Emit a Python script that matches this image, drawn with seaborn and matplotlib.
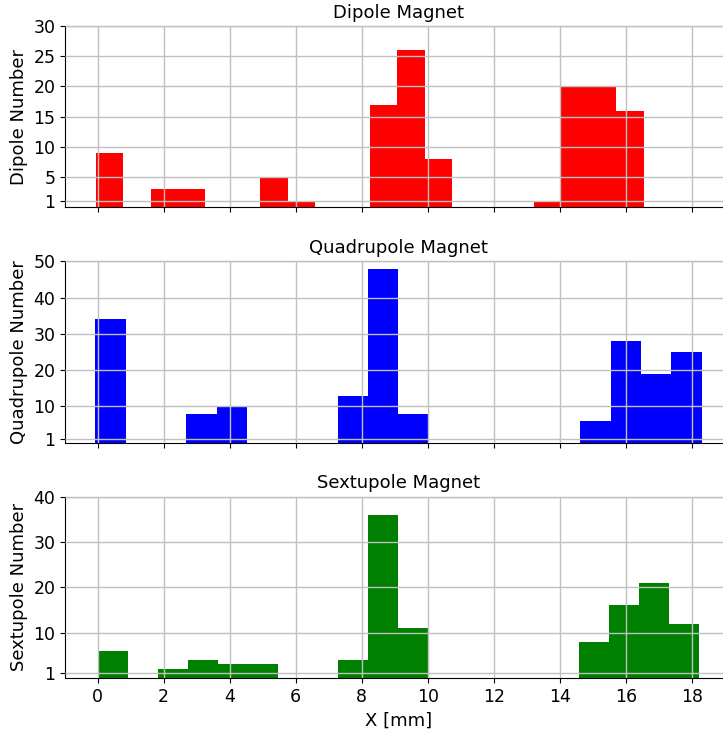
import numpy as np
import pandas as pd
import matplotlib
matplotlib.use("Agg")
import matplotlib.pyplot as plt
import seaborn as sns

# ---- data (20 histogram bins per magnet type) ----
dipole_range = (-0.05, 16.53)
dipole_counts = [9, 0, 3, 3, 0, 0, 5, 1, 0, 0, 17, 26, 8, 0, 0, 0, 1, 20, 20, 16]

quad_range = (-0.07, 18.29)
quad_counts = [34, 0, 0, 8, 10, 0, 0, 0, 13, 48, 8, 0, 0, 0, 0, 0, 6, 28, 19, 25]

sext_range = (0.0, 18.22)
sext_counts = [6, 0, 2, 4, 3, 3, 0, 0, 4, 36, 11, 0, 0, 0, 0, 0, 8, 16, 21, 12]

titles = ["Dipole Magnet", "Quadrupole Magnet", "Sextupole Magnet"]
ylabels = ["Dipole Number", "Quadrupole Number", "Sextupole Number"]
yticks_list = [[1, 5, 10, 15, 20, 25, 30], [1, 10, 20, 30, 40, 50], [1, 10, 20, 30, 40]]
ylims = [(0, 30), (0, 50), (0, 40)]
colors = ["red", "blue", "green"]
xlabel = "X [mm]"

fig = plt.figure(figsize=(7.23, 7.30), dpi=100)
axes = fig.subplots(3, 1, sharex=True)
fig.subplots_adjust(left=0.0899, right=1.0124, top=0.9644, bottom=0.0712, hspace=0.297)

datasets = [(dipole_range, dipole_counts), (quad_range, quad_counts), (sext_range, sext_counts)]

for ax, (rng, counts), title, ylab, yt, yl, col in zip(axes, datasets, titles, ylabels,
                                                       yticks_list, ylims, colors):
    nb = len(counts)
    width = (rng[1] - rng[0]) / nb
    centers = rng[0] + width * (np.arange(nb) + 0.5)
    df = pd.DataFrame({"x": centers, "w": counts})
    sns.histplot(data=df, x="x", weights="w", bins=nb, binrange=rng, ax=ax, color=col,
                 alpha=1.0, edgecolor=col, linewidth=0)
    ax.set_title(title, fontsize=13)
    ax.set_ylabel(ylab, fontsize=13)
    ax.set_xlabel("")
    ax.set_yticks(yt)
    ax.set_ylim(*yl)
    ax.tick_params(labelsize=12.5)
    ax.grid(True, color="#c0c0c0", linewidth=1.0)
    ax.set_axisbelow(False)

axes[-1].set_xlabel(xlabel, fontsize=13)
axes[-1].set_xticks([0, 2, 4, 6, 8, 10, 12, 14, 16, 18])

fig.savefig("out.png", dpi=100)
